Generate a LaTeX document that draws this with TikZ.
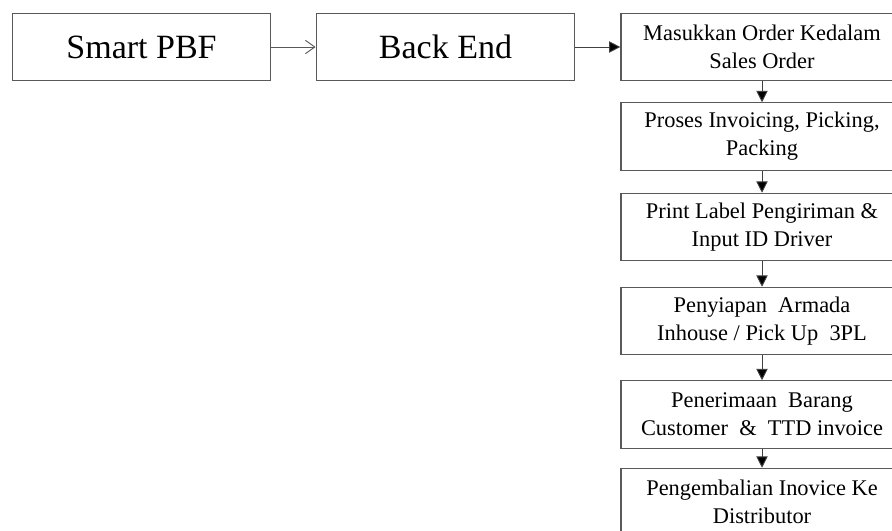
\documentclass[tikz,border=0pt]{standalone}
\usepackage{fontspec}
\setmainfont{Liberation Serif}
\usetikzlibrary{arrows.meta}
\begin{document}
\begin{tikzpicture}[x=0.75pt, y=-0.75pt,
    bigbox/.style={draw=black!65, line width=0.9pt, minimum width=194pt, minimum height=50.5pt, inner sep=0pt, font=\fontsize{25.5}{30}\selectfont},
    stepbox/.style={draw=black!65, line width=0.9pt, minimum width=211.5pt, minimum height=50.5pt, inner sep=0pt, align=center, font=\fontsize{16.8}{21}\selectfont},
    flow/.style={-{Triangle[length=8.5pt,width=8.5pt,fill=black]}, line width=0.7pt, draw=black!75},
    openflow/.style={-{Straight Barb[length=7pt,width=10pt]}, line width=0.7pt, draw=black!65}]

    % Page
    \clip (0,0) rectangle (892,531);

    % Top row
    \node[bigbox] (pbf) at (141.5,47) {Smart PBF};
    \node[bigbox] (backend) at (445.5,47) {Back End};

    % Steps
    \node[stepbox] (order) at (762,47) {Masukkan Order Kedalam\\Sales Order};
    \node[stepbox] (invoicing) at (762,136.5) {Proses Invoicing, Picking,\\Packing};
    \node[stepbox] (label) at (762,227) {Print Label Pengiriman \&\\Input ID Driver};
    \node[stepbox] (armada) at (762,321) {Penyiapan\ \ Armada\\Inhouse / Pick Up\ \ 3PL};
    \node[stepbox] (terima) at (762,414.5) {Penerimaan\ \ Barang\\Customer\ \ \&\ \ TTD invoice};
    \node[stepbox] (kembali) at (762,502) {Pengembalian Inovice Ke\\Distributor};

    % Arrows
    \draw[openflow] (pbf) -- (backend);
    \draw[flow] (backend) -- (order);
    \draw[flow] (order) -- (invoicing);
    \draw[flow] (invoicing) -- (label);
    \draw[flow] (label) -- (armada);
    \draw[flow] (armada) -- (terima);
    \draw[flow] (terima) -- (kembali);

\end{tikzpicture}
\end{document}
